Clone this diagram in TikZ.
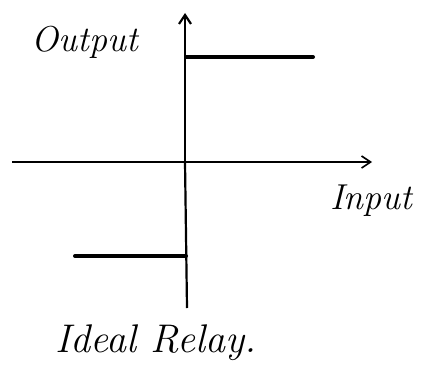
\documentclass[tikz,border=0pt]{standalone}
\usepackage{tikz}
\usetikzlibrary{positioning,arrows.meta,calc}
\tikzset{
  axis/.style   ={line width=1.6pt, -{Straight Barb[length=9pt, width=12pt]}},
  relay/.style  ={line width=4pt, line cap=round},
  lbl/.style    ={font=\fontsize{36}{40}\selectfont\itshape, inner sep=0pt},
  title/.style  ={font=\fontsize{40}{46}\selectfont\itshape, inner sep=0pt},
}
\begin{document}
\begin{tikzpicture}[x=1pt, y=-1pt]
  \useasboundingbox (0,0) rectangle (422,385);
  % axes
  \coordinate (o)    at (185,162);
  \coordinate (xl)   at (12,162);
  \coordinate (xr)   at (372,162);
  \coordinate (yt)   at (185,13);
  \coordinate (yb)   at (187,308);
  \draw[axis] (xl) -- (xr);
  \draw[line width=2.2pt] (yb) -- (o);
  \draw[axis, line width=2.2pt] (o) -- (yt);

  % relay characteristic
  \coordinate (up0)  at (186,57);
  \coordinate (up1)  at (313,57);
  \coordinate (dn0)  at (186,256);
  \coordinate (dn1)  at (75,256);
  \draw[relay] (up0) -- (up1);
  \draw[relay] (dn0) -- (dn1);

  % labels
  \node[lbl] (out) at (85,42)  {Output};
  \node[lbl] (in)  at (371,201) {Input};
  \node[title] (cap) at (156,343) {Ideal Relay.};
\end{tikzpicture}
\end{document}
